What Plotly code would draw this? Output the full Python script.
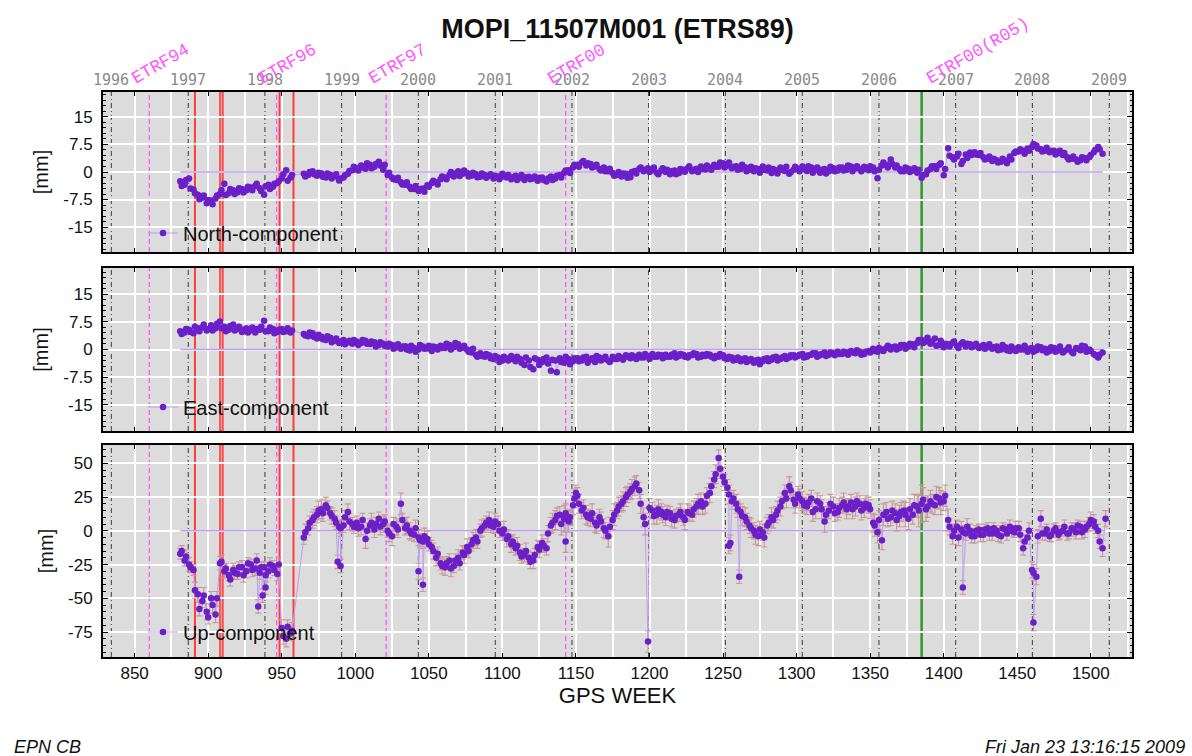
import plotly.graph_objects as go
from datetime import date

# ---------------- data ----------------
# two interleaved weekly samplings of each component
weeks_a = list(range(881, 957, 3))      # 881 .. 956
weeks_b = list(range(965, 1509, 3))     # 965 .. 1508
weeks_a2 = list(range(882, 958, 3))     # 882 .. 957
weeks_b2 = list(range(966, 1509, 3))    # 966 .. 1506

north_a = [-2.5, -3.5, -1.8, -4.8, -6.2, -7.0, -8.5, -7.8, -7.2, -6.0,
           -3.2, -5.8, -5.0, -5.5, -4.6, -5.0, -4.2, -3.8, -4.4, -6.2,
           -3.5, -4.0, -3.0, -1.8, 0.5, -1.5]
north_b = [-0.5, -0.8, 0.2, -1.0, -0.4, -1.5, -0.8, -1.2, -2.3, -1.5, -0.5, 0.5,
           1.0, 1.8, 0.9, 2.0, 1.4, 2.8, 0.6, -0.8, -1.5, -2.2,
           -2.8, -3.5, -4.0, -4.6, -5.2, -4.5, -3.6, -3.0, -2.8, -2.0,
           -1.5, -0.8, -1.2, 0.2, -0.5, -0.3, -1.0, -0.6, -1.3, -0.8,
           -1.0, -1.8, -1.2, -0.5, -1.5, -2.0, -1.0, -1.6, -2.2, -1.3,
           -1.8, -2.4, -1.5, -2.6, -1.2, -1.8, -0.8, -0.2, 0.5, 1.2,
           2.0, 2.6, 1.8, 2.2, 1.5, 0.8, 1.2, 0.2, -0.3, -0.8,
           -1.2, -0.5, -1.4, 0.3, 0.8, 0.2, 1.0, 0.5, -0.2, 0.4,
           0.0, -0.6, 0.4, -0.3, 0.6, 1.0, 0.2, 0.9, 1.5, 0.7,
           1.2, 2.0, 1.4, 2.4, 1.8, 1.0, 1.6, 0.8, 1.3, 0.6,
           0.2, 0.8, 1.5, 0.4, -0.3, 0.5, 1.2, 0.3, -0.5, 0.6,
           0.9, 1.5, 0.3, 1.2, 0.5, -0.2, 0.8, 0.2, 1.0, 0.4,
           1.2, 0.6, 1.5, 1.0, 0.8, 1.4, 0.5, 1.2, -1.7, 1.8,
           2.0, 3.4, 1.2, 0.8, 0.2, 0.9, 0.4, -0.2, -1.6, -0.6,
           0.8, 1.6, 2.0, -0.9, 6.5, 4.0, 4.2, 2.2, 4.8, 5.3,
           5.4, 4.6, 4.0, 3.6, 3.0, 3.2, 2.8, 3.1, 4.2, 5.2,
           5.6, 5.8, 6.4, 6.8, 7.2, 6.2, 5.8, 5.4, 5.8, 5.2,
           4.6, 4.0, 3.6, 3.4, 3.2, 3.8, 4.0, 5.4, 6.8, 5.0]
north_a2 = [-3.8, -2.2, -4.5, -5.8, -7.4, -6.4, -7.6, -8.8, -6.4, -5.0,
            -6.3, -4.6, -6.0, -4.4, -5.6, -4.0, -5.0, -3.2, -5.2, -3.9,
            -4.6, -3.2, -2.5, -0.6, -2.4, -0.8]
north_b2 = [-1.2, 0.0, -0.6, -0.2, -1.3, -0.4, -1.8, -0.6, -1.8, -0.9, 0.3, 1.4,
            0.4, 1.2, 2.4, 1.0, 2.2, 1.8, 2.0, -0.2, -2.0, -1.6,
            -3.4, -2.8, -4.6, -3.8, -4.6, -5.4, -4.0, -2.4, -3.4, -1.2,
            -2.0, 0.0, -0.4, -1.1, 0.4, -1.2, -0.2, -1.4, -0.4, -1.6,
            -0.6, -1.0, -2.0, -1.2, -0.8, -1.4, -2.2, -0.8, -1.4, -2.0,
            -1.2, -1.6, -2.2, -1.8, -2.2, -1.0, -1.5, 0.4, -0.3, 2.0,
            1.4, 3.0, 2.4, 1.2, 2.0, 0.4, 0.2, 0.9, -1.0, 0.0,
            -0.4, -1.6, 0.0, -0.4, 1.2, 0.6, 0.0, 1.2, -0.6, 1.0,
            0.6, 0.2, -0.6, 0.8, 0.1, 1.6, 0.6, 0.0, 0.8, 1.8,
            0.6, 1.4, 2.6, 1.2, 2.6, 1.4, 0.6, 2.0, 0.2, 1.4,
            1.0, -0.2, 0.6, 1.2, 0.8, -0.4, 0.6, 1.4, 0.0, 1.4,
            0.2, 0.8, 1.6, -0.2, 1.2, 0.6, -0.4, 1.4, 0.2, 1.2,
            0.4, 1.8, 0.2, 1.6, 0.2, 0.8, 1.6, 0.2, 0.6, 2.6,
            1.2, 2.2, 1.8, 0.2, 1.2, 0.0, 1.0, 0.6, -0.8, 0.4,
            1.6, 0.8, 2.4, 0.8, 4.4, 3.4, 5.0, 3.0, 3.8, 4.6,
            4.8, 5.2, 3.4, 4.2, 3.6, 2.6, 3.6, 2.4, 3.4, 5.6,
            6.2, 5.0, 5.8, 7.6, 6.4, 5.6, 6.6, 5.8, 4.8, 5.8,
            5.2, 3.4, 4.2, 2.8, 4.0, 3.2, 4.6, 6.0, 6.2]

east_a = [5.0, 4.6, 5.4, 4.4, 5.8, 6.0, 5.2, 6.6, 5.8, 7.6,
          6.2, 5.4, 6.8, 5.6, 4.8, 5.8, 5.2, 4.6, 5.4, 7.8,
          5.0, 5.6, 4.8, 5.6, 5.0, 4.6]
east_b = [4.2, 3.6, 4.4, 3.0, 3.5, 2.6, 3.2, 2.4, 1.8, 2.6, 2.0, 1.6,
          2.2, 1.8, 2.4, 1.5, 2.0, 1.2, 1.6, 0.8, 1.2, 0.6,
          0.2, 0.9, -0.3, 0.4, 0.0, 0.8, 0.3, -0.4, 0.6, 1.0,
          0.4, 1.2, 0.6, 1.4, 0.5, 0.0, -0.8, -1.4, -1.0, -2.0,
          -1.6, -2.6, -2.2, -3.0, -2.4, -1.8, -3.2, -2.6, -4.2, -3.0,
          -5.4, -2.8, -3.4, -2.2, -5.8, -3.0, -2.4, -3.6, -2.6, -3.2,
          -2.4, -3.0, -2.0, -2.8, -3.4, -2.2, -2.6, -3.0, -2.0, -2.6,
          -2.2, -1.6, -2.4, -2.0, -1.4, -2.2, -1.8, -1.2, -2.0, -1.6,
          -1.4, -2.0, -1.0, -1.8, -1.4, -2.2, -1.6, -1.2, -2.0, -1.8,
          -1.4, -2.4, -2.0, -1.6, -2.6, -2.2, -2.8, -3.2, -2.4, -3.0,
          -3.6, -2.8, -3.2, -2.4, -2.8, -2.0, -2.6, -1.8, -2.2, -1.6,
          -1.8, -1.2, -2.0, -1.4, -1.0, -1.6, -0.8, -1.4, -1.0, -0.6,
          -1.2, -0.8, -0.4, -1.0, -0.6, -1.2, -0.4, 0.2, -0.6, 0.0,
          0.4, 0.0, 0.8, 0.4, 1.2, 0.8, 1.4, 1.8, 2.6, 2.2,
          1.6, 3.0, 1.2, 0.6, 1.4, 1.8, 1.0, 1.6, 0.8, 1.4,
          1.0, 0.4, 1.2, 0.6, 0.2, 0.8, 0.0, 0.6, -0.4, 0.2,
          0.6, 0.0, -0.6, 0.4, -0.2, 0.6, 0.2, -0.4, 0.4, -0.2,
          -0.8, 0.0, -0.6, 0.4, -0.2, 0.8, 0.0, -1.2, -2.2, -0.8]
east_a2 = [4.2, 5.6, 4.8, 6.2, 5.0, 6.8, 5.6, 5.2, 7.0, 5.8,
           5.0, 6.4, 5.2, 6.2, 5.4, 4.6, 6.0, 5.6, 6.2, 5.0,
           6.0, 4.4, 5.4, 4.8, 5.8, 5.2]
east_b2 = [3.8, 4.6, 3.4, 4.0, 2.8, 3.6, 2.0, 3.0, 2.2, 1.4, 2.4, 2.6,
           1.2, 2.6, 1.6, 2.2, 0.8, 2.0, 1.0, 1.6, 0.2, 1.4,
           0.8, 0.0, 1.0, -0.6, 1.2, 0.2, 1.0, 0.8, 0.0, 0.4,
           1.6, 0.0, 1.8, 0.2, 1.0, -0.6, 0.2, -2.0, -1.8, -1.2,
           -2.4, -1.8, -3.4, -2.0, -3.0, -2.6, -2.0, -3.6, -2.2, -4.8,
           -2.4, -4.2, -2.6, -3.8, -2.8, -6.2, -3.4, -2.0, -4.0, -2.4,
           -3.2, -2.2, -3.6, -2.4, -1.8, -3.0, -2.0, -3.4, -2.6, -1.8,
           -2.8, -2.0, -1.6, -2.6, -2.2, -1.2, -2.6, -2.0, -1.4, -2.4,
           -2.0, -1.4, -2.2, -1.2, -2.0, -1.6, -1.0, -2.2, -1.4, -1.2,
           -2.0, -1.8, -1.2, -2.4, -2.0, -3.0, -2.2, -2.6, -3.4, -2.6,
           -3.0, -4.0, -2.6, -3.2, -2.2, -3.0, -2.2, -2.6, -1.6, -2.2,
           -1.4, -2.2, -1.6, -1.0, -2.0, -1.2, -1.8, -0.8, -1.6, -1.2,
           -0.6, -1.4, -0.8, -0.2, -1.4, -0.6, -0.8, -0.4, 0.4, -0.4,
           1.0, 0.6, 0.0, 1.2, 0.2, 1.6, 0.6, 2.6, 1.8, 3.2,
           2.2, 1.0, 2.4, 1.6, 0.8, 2.2, 0.4, 2.0, 1.6, 0.6,
           1.6, 0.8, 0.2, 1.4, 0.6, -0.2, 1.2, -0.2, 0.8, -0.4,
           0.0, 1.0, 0.2, -0.6, 0.8, -0.2, -0.8, 0.6, -0.6, 0.8,
           -0.4, 0.6, -1.0, 0.2, 1.0, -0.6, -0.4, -1.6, -1.4]

up_a = [-17, -22, -25, -29, -47, -52, -60, -50, -62, -24,
        -30, -33, -29, -32, -27, -30, -25, -28, -31, -27,
        -30, -26, -32, -72, -80, -76]
up_b = [-5, 2, 8, 12, 16, 19, 13, 9, 3, 4, 14, 5,
        6, 3, -6, 4, 1, 9, 5, 0, -4, 3,
        20, 2, 0, -3, -5, -8, -6, -12, -20, -24,
        -27, -22, -26, -20, -16, -12, -10, -5, 0, 4,
        8, 3, 5, -2, -6, -10, -13, -16, -18, -20,
        -22, -12, -9, -13, 4, 8, 12, 9, 7, 19,
        26, 15, 12, 9, 6, 10, 2, -4, 8, 15,
        20, 25, 29, 33, 30, 10, -82, 15, 12, 14,
        10, 13, 8, 12, 10, 14, 12, 18, 22, 20,
        28, 38, 54, 40, 32, 22, 20, 14, 10, 4,
        0, -4, -1, 4, 10, 12, 18, 28, 33, 23,
        27, 22, 18, 24, 16, 20, 7, 15, 18, 14,
        19, 16, 21, 18, 20, 17, 19, 6, -1, -7,
        14, 10, 13, 11, 15, 9, 12, 18, 20, 16,
        22, 19, 24, 22, 8, -4, 3, 1, -2, 0,
        -4, 1, -3, 2, -2, 0, -4, 1, 3, -1,
        2, -13, -5, -29, -34, 9, -2, -4, 0, -3,
        0, -2, 2, -1, 3, 1, 5, 7, 0, -13]
up_a2 = [-15, -19, -27, -44, -58, -48, -64, -55, -50, -23,
         -28, -36, -31, -27, -33, -24, -29, -22, -27, -33,
         -25, -29, -25, -78, -71, -74]
up_b2 = [-1, 6, 10, 15, 13, 17, 11, 6, 2, 10, 7, 3,
         2, 8, 0, 6, 5, 3, 7, -2, 5, 1,
         8, 4, -2, 2, -7, -4, -10, -15, -17, -26,
         -24, -28, -22, -24, -18, -15, -7, -8, 2, 6,
         4, 7, 0, 1, -4, -8, -11, -19, -15, -23,
         -18, -14, -11, -2, 6, 11, 5, 13, 10, 24,
         20, 17, 10, 13, 4, 7, 0, 3, 12, 18,
         22, 27, 31, 35, 20, 5, 17, 11, 16, 12,
         14, 9, 11, 14, 8, 13, 16, 20, 18, 26,
         33, 42, 46, 36, 27, 24, 16, 11, 7, 2,
         -3, 1, -5, 6, 8, 15, 22, 24, 30, 20,
         24, 19, 21, 14, 22, 16, 12, 20, 13, 17,
         21, 18, 16, 22, 15, 20, 16, 4, 8, 12,
         9, 15, 8, 14, 12, 16, 19, 15, 23, 18,
         20, 25, 21, 26, 3, 0, -5, -1, 3, -4,
         0, -3, 1, -2, 2, -3, 2, -2, 0, 2,
         -3, -8, 0, -31, -4, -2, 1, -3, 2, -1,
         3, -2, 1, 4, -1, 3, 8, 3, -8]
up_err_a = [4, 4, 5, 4, 5, 5, 6, 5, 6, 5,
            5, 4, 5, 4, 5, 5, 4, 5, 5, 4,
            5, 4, 5, 6, 6, 5]
up_err_b = [5, 5, 6, 6, 7, 6, 5, 6, 5, 5, 6, 5,
            5, 6, 7, 5, 6, 5, 6, 5, 7, 6,
            8, 5, 6, 5, 6, 5, 6, 5, 6, 5,
            6, 5, 5, 6, 5, 6, 5, 6, 5, 5,
            6, 5, 6, 5, 6, 6, 5, 6, 5, 5,
            6, 5, 6, 5, 6, 7, 6, 10, 8, 7,
            6, 6, 7, 6, 7, 6, 7, 8, 7, 6,
            6, 7, 6, 7, 6, 7, 8, 6, 7, 6,
            6, 5, 6, 5, 6, 6, 5, 6, 6, 7,
            7, 6, 6, 7, 6, 6, 7, 6, 7, 6,
            6, 7, 6, 6, 7, 6, 7, 6, 7, 6,
            6, 7, 6, 6, 7, 6, 8, 6, 7, 6,
            6, 7, 6, 7, 6, 7, 6, 7, 8, 7,
            7, 6, 7, 8, 7, 8, 7, 8, 14, 9,
            8, 7, 8, 7, 8, 6, 5, 6, 5, 5,
            5, 4, 5, 4, 5, 4, 5, 4, 5, 4,
            5, 5, 5, 6, 6, 6, 5, 4, 5, 4,
            4, 5, 4, 5, 4, 6, 5, 5, 5, 6]
up_err_a2 = [4, 5, 4, 6, 5, 6, 5, 6, 5, 5,
             4, 5, 5, 4, 5, 4, 5, 5, 4, 5,
             5, 4, 5, 6, 5, 6]
up_err_b2 = [6, 5, 6, 7, 6, 5, 6, 5, 6, 5, 6, 5,
             6, 5, 6, 7, 5, 6, 5, 6, 5, 6,
             5, 6, 5, 6, 5, 6, 5, 6, 5, 6,
             5, 6, 5, 5, 6, 5, 6, 5, 6, 5,
             5, 6, 5, 6, 5, 5, 6, 5, 6, 5,
             5, 6, 5, 6, 7, 6, 8, 7, 6, 7,
             7, 6, 6, 7, 6, 7, 6, 7, 8, 7,
             7, 6, 7, 6, 7, 8, 7, 6, 7, 6,
             5, 6, 5, 6, 7, 6, 6, 7, 6, 6,
             6, 7, 7, 6, 7, 6, 6, 7, 6, 7,
             7, 6, 7, 6, 6, 7, 6, 7, 6, 7,
             7, 6, 6, 7, 6, 7, 6, 7, 6, 7,
             7, 6, 7, 6, 7, 6, 7, 8, 7, 8,
             6, 7, 8, 7, 9, 8, 8, 12, 9, 8,
             7, 8, 9, 8, 6, 5, 6, 5, 6, 5,
             4, 5, 4, 5, 4, 5, 4, 5, 4, 5,
             5, 5, 6, 6, 5, 5, 4, 5, 4, 5,
             5, 4, 5, 4, 5, 4, 6, 5, 5]
up_out_weeks = [934, 937, 939, 988, 990, 1043, 1046, 1143, 1150, 1254, 1255, 1261, 1413, 1461, 1510]
up_out_vals = [-56, -48, -42, -23, -26, -30, -40, -8, 28, -11, -9, -34, -42, -68, 9]
up_out_errs = [5, 5, 5, 5, 5, 6, 5, 8, 6, 6, 6, 5, 5, 6, 6]

years = list(range(1996, 2010))
etrf_weeks = [860, 946.5, 1021, 1143, 1400]
etrf_labels = ["ETRF94", "ETRF96", "ETRF97", "ETRF00", "ETRF00(R05)"]
red_weeks = [891, 948.5, 958]
red_band = [908, 910]
green_weeks = [1385]

# ---------------- assemble ----------------
def merge(*parts):
    rows = []
    for p in parts:
        rows += list(zip(*p))
    rows.sort(key=lambda r: r[0])
    return [list(c) for c in zip(*rows)]

for wk, vals in [(weeks_a, north_a), (weeks_b, north_b), (weeks_a2, north_a2), (weeks_b2, north_b2),
                 (weeks_a, east_a), (weeks_b, east_b), (weeks_a2, east_a2), (weeks_b2, east_b2),
                 (weeks_a, up_a), (weeks_b, up_b), (weeks_a2, up_a2), (weeks_b2, up_b2),
                 (weeks_a, up_err_a), (weeks_b, up_err_b), (weeks_a2, up_err_a2), (weeks_b2, up_err_b2)]:
    assert len(wk) == len(vals), (len(wk), len(vals))

n_weeks, north = merge((weeks_a, north_a), (weeks_b, north_b), (weeks_a2, north_a2), (weeks_b2, north_b2))
e_weeks, east = merge((weeks_a, east_a), (weeks_b, east_b), (weeks_a2, east_a2), (weeks_b2, east_b2))
u_weeks, up_vals, up_errs = merge((weeks_a, up_a, up_err_a), (weeks_b, up_b, up_err_b),
                                  (weeks_a2, up_a2, up_err_a2), (weeks_b2, up_b2, up_err_b2),
                                  (up_out_weeks, up_out_vals, up_out_errs))

gps0 = date(1980, 1, 6)
year_weeks = [(date(y, 1, 1) - gps0).days / 7.0 for y in years]

# ---------------- styling / geometry ----------------
W, H = 1192, 756
ML, MR, MT, MB = 103, 60, 92, 99
PW, PH = W - ML - MR, H - MT - MB
def py(px):   # pixel row -> paper y
    return (H - MB - px) / PH
def pxx(px):  # pixel col -> paper x
    return (px - ML) / PW

XR = [828.5, 1528]
MARK = "#6a1fc8"
LINEC = "#bf9fec"
FONT = "Liberation Sans"

fig = go.Figure()
panels = [
    ("x", "y", north, n_weeks, None, "North-component", "legend"),
    ("x2", "y2", east, e_weeks, None, "East-component", "legend2"),
    ("x3", "y3", up_vals, u_weeks, up_errs, "Up-component", "legend3"),
]
for xa, ya, vals, wk, errs, name, leg in panels:
    fig.add_trace(go.Scatter(x=[wk[0], wk[-1]], y=[0, 0], xaxis=xa, yaxis=ya, mode="lines",
                             line=dict(color=LINEC, width=1.5), showlegend=False, hoverinfo="skip"))
    tr = dict(x=wk, y=vals, xaxis=xa, yaxis=ya, mode="lines+markers", name=name, legend=leg,
              line=dict(color=LINEC, width=1), marker=dict(color=MARK, size=6.5))
    if errs is not None:
        tr["error_y"] = dict(type="data", array=errs, color="#c69898", thickness=1.1, width=3)
    fig.add_trace(go.Scatter(**tr))

xcommon = dict(range=XR, showline=True, mirror="allticks", linecolor="black", linewidth=2,
               showgrid=True, gridcolor="white", gridwidth=2, dtick=50, tick0=0,
               minor=dict(dtick=25, showgrid=True, gridcolor="white", gridwidth=2),
               ticks="inside", ticklen=4, tickcolor="black", zeroline=False)
ycommon = dict(showline=True, mirror="allticks", linecolor="black", linewidth=2,
               showgrid=True, gridcolor="white", gridwidth=2, zeroline=False,
               ticks="inside", ticklen=5, tickcolor="black",
               tickfont=dict(family=FONT, size=17, color="#111"), ticklabelstandoff=5,
               title=dict(text="[mm]", font=dict(family=FONT, size=20, color="#111"), standoff=9))

doms = [[py(252), py(92)], [py(431), py(268)], [py(657), py(445)]]
ranges = [[-21.8, 21.8], [-22.2, 22.2], [-93.5, 63.6]]
tvals = [[-15, -7.5, 0, 7.5, 15], [-15, -7.5, 0, 7.5, 15], [-75, -50, -25, 0, 25, 50]]
minor_dt = [1.5, 1.5, 5]

layout = dict(
    width=W, height=H, margin=dict(l=ML, r=MR, t=MT, b=MB),
    paper_bgcolor="white", plot_bgcolor="#dcdcdc",
    title=dict(text="<b>MOPI_11507M001 (ETRS89)</b>", x=0.5, xref="paper", xanchor="center",
               y=1 - 29 / H, yref="container", yanchor="middle",
               font=dict(family=FONT, size=27, color="#111")),
    font=dict(family=FONT, color="#111"),
)
for i in range(3):
    xn = "xaxis" if i == 0 else f"xaxis{i+1}"
    yn = "yaxis" if i == 0 else f"yaxis{i+1}"
    yid = "y" if i == 0 else f"y{i+1}"
    xd = dict(xcommon, anchor=yid, showticklabels=(i == 2))
    if i > 0:
        xd["matches"] = "x"
    if i == 2:
        xd["tickfont"] = dict(family=FONT, size=17, color="#111")
        xd["title"] = dict(text="GPS WEEK", font=dict(family=FONT, size=22, color="#111"), standoff=3)
    layout[xn] = xd
    yd = dict(ycommon, domain=doms[i], anchor="x" if i == 0 else f"x{i+1}", range=ranges[i],
              tickvals=tvals[i], ticktext=[f"{v:g}" for v in tvals[i]],
              minor=dict(dtick=minor_dt[i], ticks="inside", ticklen=2.5, tickcolor="black", showgrid=False))
    layout[yn] = yd
    # right-hand labels
    layout[f"yaxis{i+4}"] = dict(overlaying=yid, side="right", anchor="x" if i == 0 else f"x{i+1}",
                                 range=ranges[i], tickvals=tvals[i], ticktext=[f"{v:g}" for v in tvals[i]],
                                 showgrid=False, showline=False, zeroline=False, ticks="",
                                 tickfont=dict(family=FONT, size=17, color="#111"), ticklabelstandoff=3)

legbase = dict(x=pxx(143), xanchor="left", yanchor="middle", bgcolor="rgba(0,0,0,0)",
               font=dict(family=FONT, size=20, color="#111"), itemwidth=30)
layout["legend"] = dict(legbase, y=py(233))
layout["legend2"] = dict(legbase, y=py(407))
layout["legend3"] = dict(legbase, y=py(632))

shapes = []
for xa, yd in [("x", "y domain"), ("x2", "y2 domain"), ("x3", "y3 domain")]:
    for w in year_weeks:
        shapes.append(dict(type="line", xref=xa, yref=yd, x0=w, x1=w, y0=0, y1=1, layer="below",
                           line=dict(color="#3a3a3a", width=1, dash="5px,3px,1px,3px")))
    for w in etrf_weeks:
        shapes.append(dict(type="line", xref=xa, yref=yd, x0=w, x1=w, y0=0, y1=1, layer="below",
                           line=dict(color="#ff55ff", width=1.3, dash="5px,3px")))
    for w in red_weeks:
        shapes.append(dict(type="line", xref=xa, yref=yd, x0=w, x1=w, y0=0, y1=1, layer="below",
                           line=dict(color="#ff3b3b", width=2)))
    shapes.append(dict(type="rect", xref=xa, yref=yd, x0=red_band[0], x1=red_band[1], y0=0, y1=1,
                       layer="below", fillcolor="rgba(255,90,90,0.45)",
                       line=dict(color="#ff3b3b", width=1.5)))
    for w in green_weeks:
        shapes.append(dict(type="line", xref=xa, yref=yd, x0=w, x1=w, y0=0, y1=1, layer="below",
                           line=dict(color="#2a9a2a", width=2.5)))
layout["shapes"] = shapes

ann = []
# calendar-year labels along the top of the first panel
for w, y in zip(year_weeks, years):
    ann.append(dict(x=w, xref="x", y=py(80), yref="paper", text=str(y), showarrow=False,
                    xanchor="center", yanchor="middle",
                    font=dict(family="DejaVu Sans Mono", size=15, color="#8a8a8a")))
for w, lab in zip(etrf_weeks, etrf_labels):
    ann.append(dict(x=w, xref="x", y=py(91), yref="paper", text=lab, showarrow=False,
                    xanchor="left", yanchor="bottom", xshift=-24, textangle=-30,
                    font=dict(family="Liberation Mono", size=17.5, color="#ff55ff")))
ann.append(dict(x=pxx(12), y=py(747), xref="paper", yref="paper", text="<i>EPN CB</i>",
                showarrow=False, xanchor="left", yanchor="middle",
                font=dict(family=FONT, size=18, color="#111")))
ann.append(dict(x=pxx(1187), y=py(747), xref="paper", yref="paper",
                text="<i>Fri Jan 23 13:16:15 2009</i>", showarrow=False, xanchor="right",
                yanchor="middle", font=dict(family=FONT, size=18, color="#111")))
layout["annotations"] = ann

fig.update_layout(**layout)
fig.write_html("out.html", config={"displayModeBar": False},
               post_script="document.body.style.margin='0px';")
